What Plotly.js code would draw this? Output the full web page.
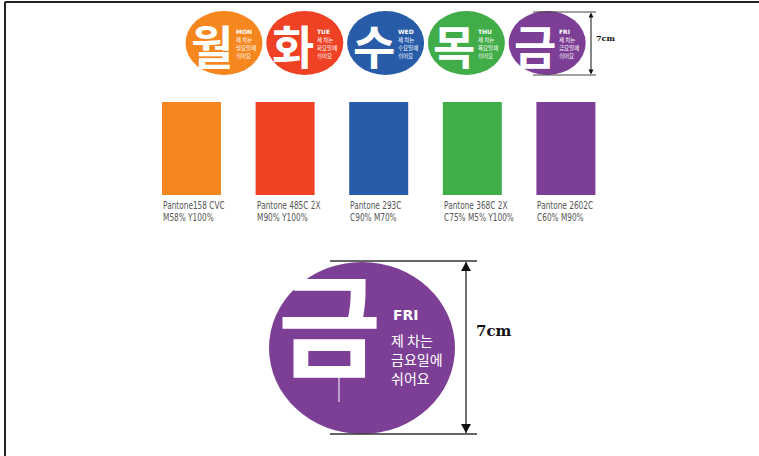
<!DOCTYPE html>
<html><head><meta charset="utf-8">
<script src="https://cdn.plot.ly/plotly-3.0.1.min.js"></script>
<style>html,body{margin:0;padding:0;background:#fff;overflow:hidden}</style>
</head><body><div id="chart" style="width:759px;height:456px"></div>
<script>
// ---- data ----
const days = ['월', '화', '수', '목', '금'];
const dayNames = ['MON', 'TUE', 'WED', 'THU', 'FRI'];
const dayWords = ['월요일에', '화요일에', '수요일에', '목요일에', '금요일에'];
const swatchColors = ['#F6871F', '#EF4123', '#285CA9', '#41AD49', '#7D3F96'];
const pantone = ['Pantone158 CVC', 'Pantone 485C 2X', 'Pantone 293C', 'Pantone 368C 2X', 'Pantone 2602C'];
const cmyk = ['M58% Y100%', 'M90% Y100%', 'C90% M70%', 'C75% M5% Y100%', 'C60% M90%'];
const lineTop = '제 차는';
const lineBottom = '쉬어요';
const featured = 4;
const sizeLabel = '7cm';

// ---- layout geometry ----
const shapes = [];
const ann = [];
const narrowIdx = [];
const KR = 'Noto Sans CJK KR';
const NARROW = 'DejaVu Sans Condensed, Liberation Sans Narrow, Arial Narrow, Liberation Sans';
const SERIF = 'DejaVu Serif';

function text(x, y, t, size, color, opts) {
  opts = opts || {};
  if (opts.narrow) narrowIdx.push(ann.length);
  ann.push(Object.assign({
    x: x, y: y, xref: 'x', yref: 'y', text: t, showarrow: false,
    xanchor: 'left', yanchor: 'middle',
    font: {family: opts.family || KR, size: size, color: color, weight: opts.weight || 'normal'}
  }, opts.extra || {}));
}
function line(x0, y0, x1, y1, color, w) {
  shapes.push({type: 'line', xref: 'x', yref: 'y', x0: x0, y0: y0, x1: x1, y1: y1,
    line: {color: color, width: w}});
}
function tri(x, y, w, h, dir) { // dir: -1 points up, 1 points down
  shapes.push({type: 'path', xref: 'x', yref: 'y',
    path: `M ${x} ${y} L ${x - w / 2} ${y - dir * h} L ${x + w / 2} ${y - dir * h} Z`,
    fillcolor: '#111', line: {width: 0}});
}

// frame
line(5, 2, 759, 2, '#222', 2);
line(5, 2, 5, 456, '#222', 2);

// small badges
days.forEach((d, i) => {
  const cx = 224 + i * 80.8, cy = 43, rx = 38.5, ry = 32;
  shapes.push({type: 'circle', xref: 'x', yref: 'y', x0: cx - rx, x1: cx + rx, y0: cy - ry, y1: cy + ry,
    fillcolor: swatchColors[i], line: {width: 0}});
  text(cx - 12, cy + 1, d, 46, '#fff', {weight: 'bold', extra: {xanchor: 'center'}});
  text(cx + 10, cy - 12, dayNames[i], 6, '#fff', {family: 'DejaVu Sans', weight: 'bold'});
  text(cx + 10, cy - 3, lineTop, 5.5, '#fff');
  text(cx + 10, cy + 5, dayWords[i], 5.5, '#fff');
  text(cx + 10, cy + 13, lineBottom, 5.5, '#fff');
});
// small dimension
line(533, 12, 596, 12, '#444', 1);
line(533, 75, 596, 75, '#444', 1);
line(591, 14, 591, 73, '#111', 1);
tri(591, 12.5, 5, 5, -1);
tri(591, 74.5, 5, 5, 1);
text(594, 38, sizeLabel, 8, '#111', {family: SERIF, weight: 'bold'});

// swatches
swatchColors.forEach((c, i) => {
  const x0 = 162 + i * 93.6, w = 59;
  shapes.push({type: 'rect', xref: 'x', yref: 'y', x0: x0, x1: x0 + w, y0: 102, y1: 195,
    fillcolor: c, line: {width: 0}});
  text(x0 - 1, 205, pantone[i], 10, '#555', {family: NARROW, narrow: true});
  text(x0 - 1, 217, cmyk[i], 10, '#555', {family: NARROW, narrow: true});
});

// featured large badge
{
  const cx = 362, cy = 348, rx = 93, ry = 86;
  shapes.push({type: 'circle', xref: 'x', yref: 'y', x0: cx - rx, x1: cx + rx, y0: cy - ry, y1: cy + ry,
    fillcolor: swatchColors[featured], line: {width: 0}});
  text(329, 320, days[featured], 112, '#fff', {weight: 'bold', extra: {xanchor: 'center'}});
  line(339, 375, 339, 402, '#fff', 1);
  text(391, 315, dayNames[featured], 14, '#fff', {family: 'DejaVu Sans', weight: 'bold'});
  text(389, 340, lineTop, 14, '#fff');
  text(389, 359, dayWords[featured], 14, '#fff');
  text(389, 378, lineBottom, 14, '#fff');
  // dimension
  line(330, 261, 477, 261, '#333', 1.5);
  line(330, 434, 477, 434, '#333', 1.5);
  line(466, 262, 466, 433, '#111', 1.2);
  tri(466, 262, 10, 9, -1);
  tri(466, 433, 10, 9, 1);
  text(474, 331, sizeLabel, 15, '#111', {family: SERIF, weight: 'bold'});
}

Plotly.newPlot('chart', [], {
  width: 759, height: 456,
  margin: {l: 0, r: 0, t: 0, b: 0},
  paper_bgcolor: '#fff', plot_bgcolor: '#fff',
  xaxis: {range: [0, 759], visible: false, fixedrange: true},
  yaxis: {range: [456, 0], visible: false, fixedrange: true},
  shapes: shapes, annotations: ann, showlegend: false
}, {staticPlot: true, displayModeBar: false}).then(gd => {
  // condense the Pantone label text horizontally (narrow typeface look)
  narrowIdx.forEach(i => {
    const t = gd.querySelector(`g.annotation[data-index="${i}"] text.annotation-text`);
    if (t) {
      t.style.transformBox = 'fill-box';
      t.style.transformOrigin = 'left center';
      t.style.transform = 'scaleX(0.82)';
    }
  });
});
</script>
</body></html>
